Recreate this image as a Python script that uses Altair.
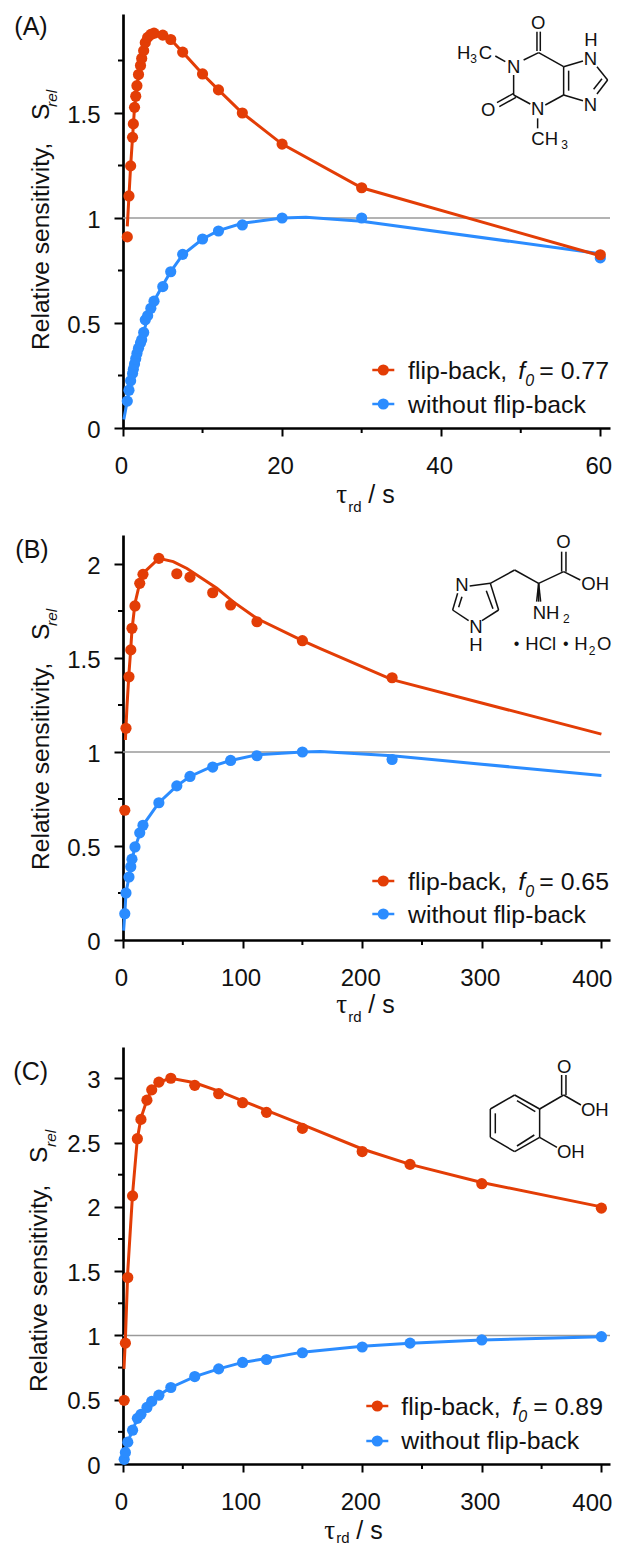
import altair as alt
import pandas as pd

RED = "#E33D06"
BLUE = "#2B8CFF"
INK = "#111111"
SANS = "Liberation Sans"
SERIF = "Liberation Serif"

# ---------- data ----------
a_x = [0.54, 0.75, 0.96, 1.2, 1.3, 1.45, 1.6, 1.75, 1.95, 2.2, 2.35, 2.6, 2.8, 3.1, 3.5, 3.9, 5, 6, 7.5, 10, 12, 15, 20, 30, 60]
a_red = [0.91, 1.105, 1.248, 1.384, 1.448, 1.527, 1.58, 1.63, 1.683, 1.726, 1.76, 1.797, 1.835, 1.86, 1.874, 1.88, 1.871, 1.85, 1.79, 1.686, 1.61, 1.50, 1.352, 1.144, 0.825]
a_blue = [0.128, 0.18, 0.225, 0.26, 0.28, 0.305, 0.33, 0.355, 0.38, 0.405, 0.42, 0.455, 0.515, 0.535, 0.57, 0.604, 0.673, 0.744, 0.827, 0.90, 0.938, 0.967, 1.0, 1.0, 0.81]
a_fit_red_x = [0.54, 0.75, 0.96, 1.2, 1.45, 1.75, 2.2, 2.8, 3.5, 3.9, 5, 6, 7.5, 10, 12, 15, 20, 30, 60]
a_fit_red_y = [0.96, 1.105, 1.248, 1.384, 1.527, 1.63, 1.726, 1.835, 1.874, 1.88, 1.871, 1.85, 1.79, 1.686, 1.61, 1.50, 1.352, 1.144, 0.82]
a_fit_blue_x = [0.1, 0.54, 1, 1.5, 2.2, 3, 3.9, 5, 6, 7.5, 10, 12, 15, 20, 23, 30, 60]
a_fit_blue_y = [0.04, 0.13, 0.235, 0.315, 0.405, 0.51, 0.605, 0.68, 0.745, 0.825, 0.90, 0.94, 0.975, 1.0, 1.003, 0.985, 0.83]

b_x = [1.5, 2.5, 5, 6.5, 7.5, 10, 14, 16.7, 30, 45, 56, 75, 90, 112, 150, 225]
b_red = [0.69, 1.126, 1.40, 1.543, 1.658, 1.777, 1.897, 1.945, 2.03, 1.948, 1.93, 1.847, 1.782, 1.693, 1.592, 1.395]
b_blue = [0.14, 0.25, 0.335, 0.39, 0.43, 0.495, 0.57, 0.61, 0.73, 0.82, 0.87, 0.92, 0.955, 0.98, 1.0, 0.96]
b_fit_red_x = [2, 3.3, 5, 6.4, 7.5, 10, 14, 16.7, 30, 42, 53.5, 78.5, 92, 112, 150, 165, 225, 400]
b_fit_red_y = [1.064, 1.24, 1.42, 1.54, 1.65, 1.79, 1.90, 1.95, 2.03, 2.013, 1.976, 1.871, 1.80, 1.71, 1.592, 1.55, 1.385, 1.095]
b_fit_blue_x = [0.5, 1.5, 2.5, 5, 6.5, 7.5, 10, 14, 16.7, 30, 45, 56, 75, 90, 112, 150, 165, 225, 400]
b_fit_blue_y = [0.05, 0.14, 0.25, 0.335, 0.39, 0.43, 0.49, 0.565, 0.61, 0.73, 0.82, 0.87, 0.925, 0.955, 0.985, 1.0, 1.003, 0.98, 0.875]

c_x = [1, 2, 4, 8, 12, 15, 20, 24, 30, 40, 60, 80, 100, 120, 150, 200, 240, 300, 400]
c_red = [0.495, 0.94, 1.45, 2.085, 2.53, 2.68, 2.83, 2.91, 2.97, 3.0, 2.945, 2.88, 2.81, 2.735, 2.61, 2.43, 2.33, 2.18, 1.99]
c_blue = [0.036, 0.09, 0.17, 0.263, 0.355, 0.386, 0.44, 0.487, 0.535, 0.595, 0.68, 0.74, 0.79, 0.813, 0.865, 0.91, 0.94, 0.965, 0.99]
c_fit_red_x = [0.8, 2, 4, 8, 12, 15, 20, 24, 30, 40, 60, 80, 100, 120, 150, 200, 240, 300, 400]
c_fit_red_y = [0.74, 0.97, 1.5, 2.1, 2.53, 2.69, 2.83, 2.91, 2.97, 3.0, 2.965, 2.90, 2.825, 2.75, 2.64, 2.45, 2.33, 2.19, 2.0]
c_fit_blue_x = [0.5, 1, 2, 4, 8, 12, 15, 20, 24, 30, 40, 60, 80, 100, 120, 150, 200, 240, 300, 400]
c_fit_blue_y = [0.01, 0.04, 0.09, 0.17, 0.265, 0.35, 0.39, 0.44, 0.485, 0.535, 0.595, 0.68, 0.74, 0.79, 0.82, 0.87, 0.915, 0.94, 0.965, 0.99]

# ---------- layout ----------
W = 487
LEFT = 122.7
SPACING = 104
DOT = 125


def bonds(ox, oy, rows):
    return [(ox + a / 3, oy + b / 3, ox + c / 3, oy + d / 3) for a, b, c, d in rows]


def panel(top, bottom, ymax, xmax, xmajor, xminor, ymajor, yminor, x, red, blue,
          frx, fry, fbx, fby, lines, texts, legend, anchor=False):
    H = bottom - top
    yscale = alt.Scale(domain=[0, ymax], range=[H, 3], nice=False, zero=False)
    xscale = alt.Scale(domain=[0, xmax], range=[0, W], nice=False, zero=False)
    px_x = alt.Scale(domain=[LEFT, LEFT + W], range=[0, W], nice=False, zero=False)
    px_y = alt.Scale(domain=[top, bottom], range=[0, H], nice=False, zero=False)

    def X(f, **k):
        return alt.X(f"{f}:Q", scale=xscale, title=None, **({"axis": None} | k))

    def Y(f, **k):
        return alt.Y(f"{f}:Q", scale=yscale, title=None, **({"axis": None} | k))

    def PX(f="x"):
        return alt.X(f"{f}:Q", scale=px_x, title=None, axis=None)

    def PY(f="y"):
        return alt.Y(f"{f}:Q", scale=px_y, title=None, axis=None)

    common = dict(domainWidth=2.7, domainColor="black", tickColor="black", tickWidth=2,
                  labelFont=SANS, labelFontSize=24, labelColor=INK, grid=False)
    # the label of the 400 tick would run past the page, it is placed by hand below
    xaxis = alt.Axis(values=xmajor, tickSize=8, labelPadding=18, labelOffset=-2,
                     labelExpr="datum.value == 400 ? '' : format(datum.value, '~r')",
                     labelFlush=False, labelOverlap=False, **common)
    yaxis = alt.Axis(values=ymajor, tickSize=9, labelPadding=14, labelOffset=2,
                     format="~r", labelOverlap=False, **common)

    layers = []
    # reference line carrying the axes
    layers.append(alt.Chart(pd.DataFrame({"y": [1], "a": [0], "b": [xmax]})).mark_rule(
        color="#9a9a9a", strokeWidth=1.5).encode(
        x=X("a", axis=xaxis), x2="b:Q", y=Y("y", axis=yaxis)))
    # minor ticks
    layers.append(alt.Chart(pd.DataFrame({"v": xminor, "p": [bottom] * len(xminor), "p2": [bottom + 5] * len(xminor)})).mark_rule(
        color="black", strokeWidth=2).encode(x=X("v"), y=PY("p"), y2="p2:Q"))
    layers.append(alt.Chart(pd.DataFrame({"v": yminor, "p": [LEFT - 5] * len(yminor), "p2": [LEFT] * len(yminor)})).mark_rule(
        color="black", strokeWidth=2).encode(y=Y("v"), x=PX("p"), x2="p2:Q"))
    # series
    for fx, fy, px, py, col in [(fbx, fby, x, blue, BLUE), (frx, fry, x, red, RED)]:
        layers.append(alt.Chart(pd.DataFrame({"x": fx, "y": fy})).mark_line(
            color=col, strokeWidth=3).encode(x=X("x"), y=Y("y")))
        layers.append(alt.Chart(pd.DataFrame({"x": px, "y": py})).mark_circle(
            color=col, size=DOT, opacity=1).encode(x=X("x"), y=Y("y")))
    # molecule bonds
    layers.append(alt.Chart(pd.DataFrame(lines, columns=["x", "y", "x2", "y2"])).mark_rule(
        color=INK, strokeWidth=1.5).encode(x=PX(), x2="x2:Q", y=PY(), y2="y2:Q"))
    # hand-built legend
    for (x0, x1, cx, yy, col) in legend:
        layers.append(alt.Chart(pd.DataFrame({"x": [x0], "x2": [x1], "y": [yy]})).mark_rule(
            color=col, strokeWidth=2.5).encode(x=PX(), x2="x2:Q", y=PY()))
        layers.append(alt.Chart(pd.DataFrame({"x": [cx], "y": [yy]})).mark_circle(
            color=col, size=DOT, opacity=1).encode(x=PX(), y=PY()))
    # texts grouped by style
    groups = {}
    for t in texts:
        key = (t[3], t[4] if len(t) > 4 else "normal", t[5] if len(t) > 5 else 0,
               t[6] if len(t) > 6 else SANS)
        groups.setdefault(key, []).append(t[:3])
    for (size, style, angle, font), rows in groups.items():
        df = pd.DataFrame(rows, columns=["x", "y", "t"])
        kw = dict(angle=angle) if angle else {}
        layers.append(alt.Chart(df).mark_text(
            fontSize=size, fontStyle=style, font=font, color=INK, align="left",
            baseline="alphabetic", **kw).encode(x=PX(), y=PY(), text="t:N"))
    if anchor:
        layers.append(alt.Chart(pd.DataFrame({"x": [8], "y": [8], "y2": [9]})).mark_rule(
            opacity=0, strokeWidth=0.01).encode(x=PX(), y=PY(), y2="y2:Q"))
    return alt.layer(*layers).resolve_scale(x="independent", y="independent").properties(width=W, height=H)


def y_title(start, s_start, rel_start, base, rel_base):
    return [
        (base, start, "Relative sensitivity,", 24.6, "normal", 270),
        (base, s_start, "S", 24.6, "normal", 270),
        (rel_base, rel_start, "rel", 15.5, "italic", 270),
    ]


def x_title(t_x, r_x, sl_x, base, sub_base):
    return [
        (t_x, base, "τ", 27, "normal", 0, SERIF),
        (r_x, sub_base, "rd", 15, "normal", 0),
        (sl_x, base, "/ s", 25, "normal", 0),
    ]


def legend_text(x0, fx, zx, eqx, y1, y2, val):
    return [
        (x0, y1, "flip-back,", 24.8),
        (fx, y1, "f", 24.8, "italic"),
        (zx, y1 + 7, "0", 16, "italic"),
        (eqx, y1, "= " + val, 24.8),
        (x0, y2, "without flip-back", 24.8),
    ]


# ---------- molecule A ----------
mol_a_lines = bonds(300, 0, [
    (710, 95, 710, 153), (720, 95, 720, 153), (670, 180, 715, 158), (715, 158, 790, 200),
    (790, 200, 790, 285), (805, 212, 805, 272), (790, 200, 848, 183), (890, 200, 922, 240),
    (922, 240, 890, 282), (905, 236, 880, 268), (790, 285, 848, 302), (790, 285, 735, 315),
    (690, 312, 640, 285), (640, 285, 640, 225), (640, 280, 590, 308), (647, 292, 597, 320),
    (615, 185, 585, 168), (712, 355, 712, 385),
])
mol_a_text = [
    (300 + 692 / 3, 87 / 3, "O", 18.5), (300 + 620 / 3, 219 / 3, "N", 18.5), (300 + 850 / 3, 194 / 3, "N", 18.5),
    (300 + 852 / 3, 139 / 3, "H", 18.5), (300 + 850 / 3, 332 / 3, "N", 18.5), (300 + 692 / 3, 345 / 3, "N", 18.5),
    (300 + 542 / 3, 347 / 3, "O", 18.5), (300 + 470 / 3, 176 / 3, "H", 18.5), (300 + 510 / 3, 190 / 3, "3", 12),
    (300 + 535 / 3, 176 / 3, "C", 18.5), (300 + 693 / 3, 434 / 3, "CH", 18.5), (300 + 783 / 3, 448 / 3, "3", 12),
]

# ---------- molecule B ----------
mol_b_lines = bonds(420, 530, [
    (424, 65, 424, 125), (437, 65, 437, 125), (430, 125, 480, 150), (355, 160, 430, 125),
    (283, 120, 355, 160), (210, 160, 283, 120), (148, 168, 210, 160), (210, 160, 235, 240),
    (198, 182, 218, 236), (235, 240, 185, 272), (145, 272, 97, 240), (97, 240, 112, 190),
    (115, 232, 125, 200), (355, 160, 349, 215), (355, 160, 355, 215), (355, 160, 361, 215),
])
mol_b_text = [
    (420 + 408 / 3, 530 + 53 / 3, "O", 18.5), (420 + 483 / 3, 530 + 180 / 3, "OH", 18.5),
    (420 + 337 / 3, 530 + 267 / 3, "NH", 18.5), (420 + 428 / 3, 530 + 280 / 3, "2", 12),
    (420 + 105 / 3, 530 + 184 / 3, "N", 18.5), (420 + 147 / 3, 530 + 309 / 3, "N", 18.5),
    (420 + 147 / 3, 530 + 363 / 3, "H", 18.5), (420 + 280 / 3, 530 + 358 / 3, "•", 16),
    (420 + 315 / 3, 530 + 361 / 3, "HCl", 18.5), (420 + 428 / 3, 530 + 358 / 3, "•", 16),
    (420 + 462 / 3, 530 + 361 / 3, "H", 18.5), (420 + 505 / 3, 530 + 375 / 3, "2", 12),
    (420 + 530 / 3, 530 + 361 / 3, "O", 18.5),
]

# ---------- molecule C ----------
mol_c_lines = bonds(460, 1070, [
    (163, 75, 238, 117), (238, 117, 238, 202), (238, 202, 163, 245), (163, 245, 90, 202),
    (90, 202, 90, 117), (90, 117, 163, 75), (170, 92, 225, 125), (105, 130, 105, 190),
    (222, 195, 170, 228), (238, 117, 310, 75), (304, 15, 304, 75), (317, 15, 317, 75),
    (310, 75, 362, 105), (238, 202, 290, 232),
])
mol_c_text = [
    (460 + 290 / 3, 1070 + 9 / 3, "O", 18.5), (460 + 362 / 3, 1070 + 137 / 3, "OH", 18.5),
    (460 + 290 / 3, 1070 + 265 / 3, "OH", 18.5),
]

pa = panel(11, 428, (428 - 14) / 210, 487 / 7.955, [0, 20, 40, 60], [10, 30, 50],
           [0, 0.5, 1, 1.5], [0.25, 0.75, 1.25, 1.75], a_x, a_red, a_blue,
           a_fit_red_x, a_fit_red_y, a_fit_blue_x, a_fit_blue_y, mol_a_lines,
           [(14, 35, "(A)", 25)] + y_title(350, 120, 107, 49, 57) + x_title(336, 348, 368, 503, 512)
           + legend_text(407.7, 518, 525, 539, 379, 413, "0.77") + mol_a_text,
           [(372, 394, 383, 370, RED), (372, 394, 383, 404, BLUE)], anchor=True)

pb = panel(532, 940, (940 - 535) / 188, 487 / 1.196, [0, 100, 200, 300, 400], [50, 150, 250, 350],
           [0, 0.5, 1, 1.5, 2], [0.25, 0.75, 1.25, 1.75], b_x, b_red, b_blue,
           b_fit_red_x, b_fit_red_y, b_fit_blue_x, b_fit_blue_y, mol_b_lines,
           [(15, 558, "(B)", 25), (572, 987, "400", 24)] + y_title(870, 640, 626, 49, 57) + x_title(336, 348, 368, 1013, 1022)
           + legend_text(407.7, 518, 525, 539, 890, 923, "0.65") + mol_b_text,
           [(372, 394, 383, 881, RED), (372, 394, 383, 914, BLUE)])

pc = panel(1044, 1464, (1464 - 1044) / 129.5, 487 / 1.196, [0, 100, 200, 300, 400], [50, 150, 250, 350],
           [0, 0.5, 1, 1.5, 2, 2.5, 3], [0.25, 0.75, 1.25, 1.75, 2.25, 2.75], c_x, c_red, c_blue,
           c_fit_red_x, c_fit_red_y, c_fit_blue_x, c_fit_blue_y, mol_c_lines,
           [(13, 1080, "(C)", 25), (572, 1511, "400", 24)] + y_title(1392, 1163, 1147, 47, 56) + x_title(324, 336, 356, 1539, 1543)
           + legend_text(401, 512, 518, 533, 1415, 1449, "0.89") + mol_c_text,
           [(366, 388, 377, 1406, RED), (366, 388, 377, 1441, BLUE)])

chart = alt.vconcat(pa, pb, pc, spacing=SPACING, bounds="flush").configure_view(stroke=None).properties(
    padding={"left": 0, "top": 0, "right": 0, "bottom": 0}, background="white")

chart.save("out.html", embed_options={"renderer": "svg", "actions": False})
